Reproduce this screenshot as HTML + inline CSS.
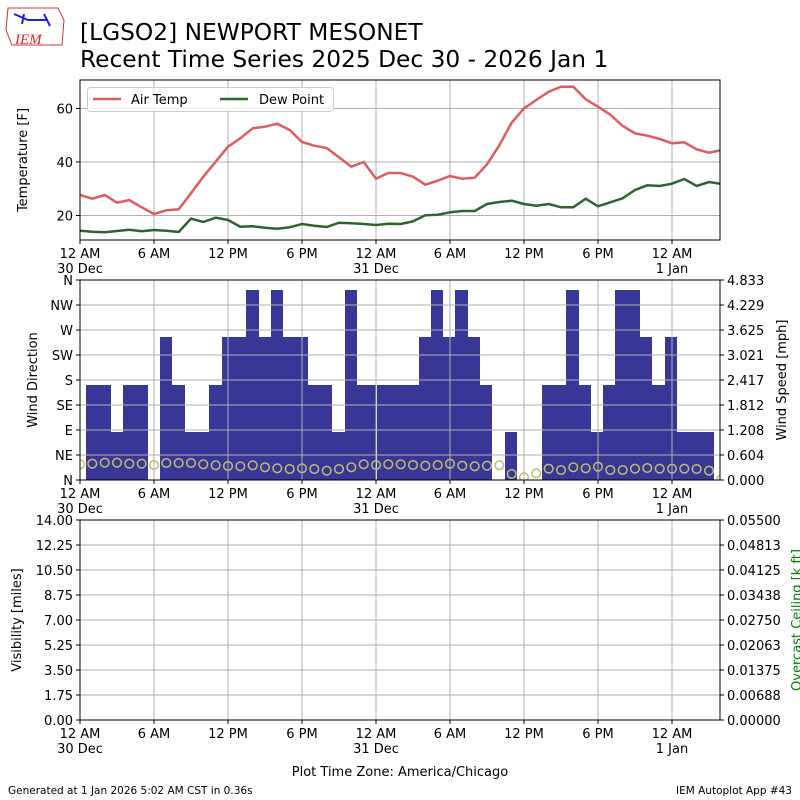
<!DOCTYPE html>
<html><head><meta charset="utf-8"><style>
body{margin:0;background:#fff}
svg{display:block;font-family:"DejaVu Sans","Liberation Sans",sans-serif}
</style></head><body>
<svg id="s" width="800" height="800" xmlns="http://www.w3.org/2000/svg"></svg>
<script>
const s=document.getElementById('s');let h='';
h+='<rect width="800" height="800" fill="#fff"/>';
h+='<path d="M8,8 L58,8 L64,20 L62,45 L12,45 L6,30 Z" fill="#fff" stroke="#c33" stroke-width="1"/>';
h+='<path d="M14,14 L28,20 L48,20 M24,14 L22,24 M44,14 L50,26" stroke="#22c" stroke-width="2" fill="none"/>';
h+='<text x="15" y="44" font-family="Liberation Serif,serif" font-style="italic" font-size="15" fill="#d22">IEM</text>';
h+='<text x="80" y="40" font-size="23.3">[LGSO2] NEWPORT MESONET</text>';
h+='<text x="80" y="67" font-size="23.3">Recent Time Series 2025 Dec 30 - 2026 Jan 1</text>';
const xs=[80,154,228,302,376,450,524,598,672];
const xl=['12 AM','6 AM','12 PM','6 PM','12 AM','6 AM','12 PM','6 PM','12 AM'];
const xl2={0:'30 Dec',4:'31 Dec',8:'1 Jan'};
function panel(t,b){
 xs.forEach(x=>{h+=`<line x1="${x}" y1="${t}" x2="${x}" y2="${b}" stroke="#b0b0b0" stroke-width="1"/>`;});
}
function xaxis(b){
 xs.forEach((x,i)=>{h+=`<line x1="${x}" y1="${b}" x2="${x}" y2="${b+4}" stroke="#000"/>`;
 h+=`<text x="${x}" y="${b+18}" font-size="13" text-anchor="middle">${xl[i]}</text>`;
 if(xl2[i])h+=`<text x="${x}" y="${b+33}" font-size="13" text-anchor="middle">${xl2[i]}</text>`;});
}
function frame(t,b){h+=`<rect x="80" y="${t}" width="640" height="${b-t}" fill="none" stroke="#000" stroke-width="1"/>`;}
panel(80,240);
[[215.5,'20'],[162,'40'],[108.5,'60']].forEach(([y,l])=>{h+=`<line x1="80" y1="${y}" x2="720" y2="${y}" stroke="#b0b0b0"/><line x1="76" y1="${y}" x2="80" y2="${y}" stroke="#000"/><text x="73" y="${y+5}" font-size="13" text-anchor="end">${l}</text>`;});
const air=[195,198.7,195,202.7,200,207.3,214,210.3,209.3,193.3,176.7,161.7,146.7,138.3,128.3,126.7,123.7,130,142,145.7,148,157.3,166.7,162,178.7,173,173,176.7,184.7,180.7,176,178.7,177.7,164.3,145.3,122.7,108.3,100,91.7,86.7,86.7,99.3,106.7,114.7,126,133.3,135.7,139,143.3,142.3,149.3,152.7,150];
const dew=[230.7,231.7,232.3,231,229.7,231.3,230,230.7,232,218.7,222,217.7,220,226.7,226.3,227.7,228.7,227.3,224,225.7,227,222.7,223.3,224,225,223.7,224,221.3,215.3,214.7,212.3,211,211,204,202,200.7,204,205.7,204,207.3,207.3,198.7,206.3,202.3,198.3,190,185.3,186,183.7,179,186,182,184];
const X=i=>80+i*12.333;
const pl=a=>a.map((y,i)=>X(i).toFixed(1)+','+y).join(' ');
h+='<svg x="80" y="80" width="640" height="160" viewBox="80 80 640 160" overflow="hidden">';
h+=`<polyline points="${pl(air)}" fill="none" stroke="#dc5c5f" stroke-width="2.5"/>`;
h+=`<polyline points="${pl(dew)}" fill="none" stroke="#2e6330" stroke-width="2.5"/>`;
h+='</svg>';
frame(80,240);xaxis(240);
h+='<rect x="87.5" y="87.5" width="246" height="24" rx="3" fill="#fff" fill-opacity="0.8" stroke="#ccc"/>';
h+='<line x1="93" y1="99" x2="121" y2="99" stroke="#dc5c5f" stroke-width="2.5"/><text x="131" y="104" font-size="13">Air Temp</text>';
h+='<line x1="220" y1="99" x2="248" y2="99" stroke="#2e6330" stroke-width="2.5"/><text x="259" y="104" font-size="13">Dew Point</text>';
h+='<text transform="translate(27,160) rotate(-90)" font-size="13" text-anchor="middle">Temperature [F]</text>';
const bars=[[86,111,385],[111,123,432],[123,148,385],[160,172,337],[172,185,385],[185,209,432],[209,222,385],[222,246,337],[246,259,290],[259,271,337],[271,283,290],[283,308,337],[308,332,385],[332,345,432],[345,357,290],[357,376,385],[377,419,385],[419,431,337],[431,443,290],[443,455,337],[455,468,290],[468,480,337],[480,492,385],[505,517,432],[542,566,385],[566,579,290],[579,591,385],[591,603,432],[603,615,385],[615,640,290],[640,652,337],[652,665,385],[665,677,337],[677,714,432]];
bars.forEach(([a,b,t])=>{h+=`<rect x="${a}" y="${t}" width="${b-a}" height="${480-t}" fill="#383697"/>`;});
panel(280,480);
const dirs=['N','NW','W','SW','S','SE','E','NE','N'];
const spd=['4.833','4.229','3.625','3.021','2.417','1.812','1.208','0.604','0.000'];
dirs.forEach((d,i)=>{const y=280+i*25;h+=`<line x1="80" y1="${y}" x2="720" y2="${y}" stroke="#b0b0b0"/><line x1="76" y1="${y}" x2="80" y2="${y}" stroke="#000"/><text x="73" y="${y+5}" font-size="13" text-anchor="end">${d}</text><line x1="720" y1="${y}" x2="724" y2="${y}" stroke="#000"/><text x="727" y="${y+5}" font-size="13">${spd[i]}</text>`;});
const cz=[553,551,548,548,551,551,555,549,549,549,553,556,558,559,556,562,565,567,565,567,572,567,562,553,555,553,553,555,557,555,551,557,559,557,556,582,592,580,566,570,562,565,560,570,570,566,564,566,566,566,567,572,598];
h+='<svg x="80" y="280" width="640" height="200" viewBox="80 280 640 200" overflow="hidden">';
cz.forEach((z,i)=>{h+=`<circle cx="${X(i).toFixed(1)}" cy="${(z/3+280).toFixed(1)}" r="4.3" fill="none" stroke="#bdbd6e" stroke-width="1.5"/>`;});
h+='</svg>';
frame(280,480);xaxis(480);
h+='<text transform="translate(37,380) rotate(-90)" font-size="13" text-anchor="middle">Wind Direction</text>';
h+='<text transform="translate(786,380) rotate(-90)" font-size="13" text-anchor="middle">Wind Speed [mph]</text>';
panel(520,720);
const vl=['14.00','12.25','10.50','8.75','7.00','5.25','3.50','1.75','0.00'];
const cl=['0.05500','0.04813','0.04125','0.03438','0.02750','0.02063','0.01375','0.00688','0.00000'];
vl.forEach((v,i)=>{const y=520+i*25;h+=`<line x1="80" y1="${y}" x2="720" y2="${y}" stroke="#b0b0b0"/><line x1="76" y1="${y}" x2="80" y2="${y}" stroke="#000"/><text x="73" y="${y+5}" font-size="13" text-anchor="end">${v}</text><line x1="720" y1="${y}" x2="724" y2="${y}" stroke="#000"/><text x="727" y="${y+5}" font-size="13">${cl[i]}</text>`;});
frame(520,720);xaxis(720);
h+='<text transform="translate(21,620) rotate(-90)" font-size="13" text-anchor="middle">Visibility [miles]</text>';
h+='<text transform="translate(801,620) rotate(-90)" font-size="13" text-anchor="middle" fill="green">Overcast Ceiling [k ft]</text>';
h+='<text x="400" y="776" font-size="13" text-anchor="middle">Plot Time Zone: America/Chicago</text>';
h+='<text x="8" y="794" font-size="10.5">Generated at 1 Jan 2026 5:02 AM CST in 0.36s</text>';
h+='<text x="792" y="794" font-size="10.5" text-anchor="end">IEM Autoplot App #43</text>';
s.innerHTML=h;
</script>
</body></html>
